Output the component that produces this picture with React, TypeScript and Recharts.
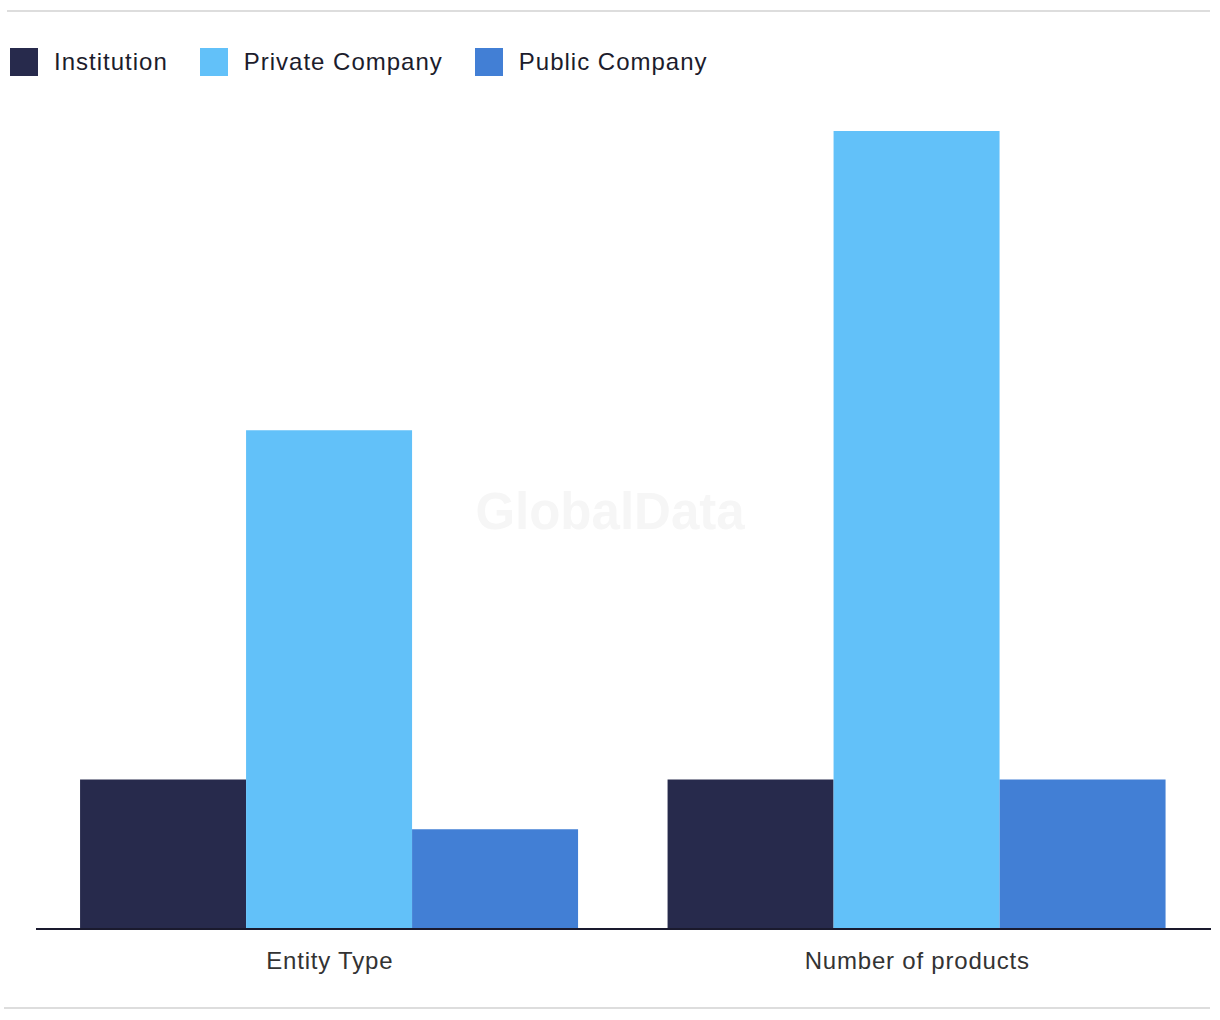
import { BarChart, Bar, XAxis, YAxis } from "recharts";

const categories = ["Entity Type", "Number of products"];
const institution = [3, 3];
const privateCompany = [10, 16];
const publicCompany = [2, 3];

const seriesNames = ["Institution", "Private Company", "Public Company"];
const seriesKeys = ["institution", "privateCompany", "publicCompany"];
const seriesColors = ["#272a4c", "#62c1f9", "#427fd5"];

const chartData = categories.map((name, i) => ({
  name,
  institution: institution[i],
  privateCompany: privateCompany[i],
  publicCompany: publicCompany[i],
}));

const font = "'Liberation Sans', Arial, sans-serif";

const App = () => {
  return (
    <div
      style={{
        position: "absolute",
        left: 0,
        top: 0,
        width: 1220,
        height: 1020,
        background: "#fff",
        fontFamily: font,
      }}
    >
      {/* top and bottom rules */}
      <div style={{ position: "absolute", left: 7, top: 10, width: 1203, height: 2, background: "#dddddd" }} />
      <div style={{ position: "absolute", left: 4, top: 1007, width: 1206, height: 2, background: "#dddddd" }} />

      {/* watermark */}
      <div
        style={{
          position: "absolute",
          left: 410,
          top: 482,
          width: 400,
          textAlign: "center",
          fontSize: 51,
          fontWeight: 700,
          color: "#f6f6f6",
          pointerEvents: "none",
        }}
      >
        GlobalData
      </div>

      {/* legend */}
      <div style={{ position: "absolute", left: 10, top: 48, display: "flex", alignItems: "center" }}>
        {seriesNames.map((n, i) => (
          <div key={n} style={{ display: "flex", alignItems: "center", marginRight: 32 }}>
            <div style={{ width: 28, height: 28, background: seriesColors[i], marginRight: 16 }} />
            <span style={{ fontSize: 24, color: "#1c1c2c", letterSpacing: 1, lineHeight: "28px" }}>{n}</span>
          </div>
        ))}
      </div>

      <div style={{ position: "absolute", left: 0, top: 0 }}>
        <BarChart
          width={1220}
          height={1020}
          data={chartData}
          margin={{ top: 131, right: 9, left: 36, bottom: 31 }}
          barCategoryGap="7.5%"
          barGap={0}
        >
          <XAxis
            dataKey="name"
            height={60}
            axisLine={{ stroke: "#1a1a2e", strokeWidth: 2 }}
            tickLine={false}
            tickSize={0}
            tickMargin={23}
            tick={{ fill: "#333333", fontSize: 24, fontFamily: font, letterSpacing: 0.8 }}
          />
          <YAxis hide domain={[0, 16]} />
          {seriesKeys.map((k, i) => (
            <Bar key={k} dataKey={k} name={seriesNames[i]} fill={seriesColors[i]} isAnimationActive={false} />
          ))}
        </BarChart>
      </div>
    </div>
  );
};

export default App;
